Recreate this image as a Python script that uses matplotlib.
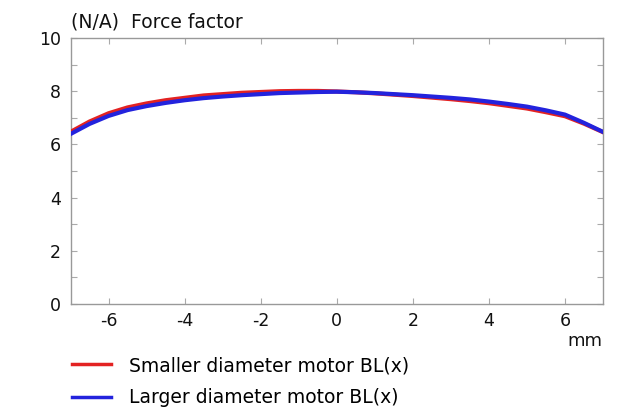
import numpy as np
import matplotlib.pyplot as plt
from matplotlib.ticker import MultipleLocator

# Displacement (mm) and force factor BL(x) (N/A)
x_mm = [-7, -6.5, -6, -5.5, -5, -4.5, -4, -3.5, -3, -2.5, -2, -1.5, -1, -0.5, 0,
        0.5, 1, 1.5, 2, 2.5, 3, 3.5, 4, 4.5, 5, 5.5, 6, 6.5, 7]
bl_small = [6.47, 6.86, 7.17, 7.39, 7.54, 7.66, 7.75, 7.84, 7.89, 7.94, 7.97, 8.00, 8.01, 8.01, 7.99,
            7.96, 7.92, 7.87, 7.82, 7.76, 7.70, 7.63, 7.55, 7.45, 7.35, 7.21, 7.06, 6.78, 6.46]
bl_large = [6.39, 6.77, 7.07, 7.29, 7.44, 7.56, 7.66, 7.74, 7.80, 7.85, 7.89, 7.93, 7.95, 7.97, 7.98,
            7.96, 7.93, 7.89, 7.85, 7.80, 7.75, 7.69, 7.61, 7.52, 7.42, 7.28, 7.12, 6.81, 6.47]

labels = ["Smaller diameter motor BL(x)", "Larger diameter motor BL(x)"]
colors = ["#e32222", "#2323dd"]

plt.rcParams['font.family'] = ['DejaVu Sans']
plt.rcParams['axes.unicode_minus'] = False

W, H = 629, 409
fig = plt.figure(figsize=(W / 100, H / 100), dpi=100)
ax = fig.add_axes([70.5 / W, 1 - 304 / H, 532.5 / W, 266 / H])

ax.plot(x_mm, bl_small, color=colors[0], lw=3, label=labels[0],
        solid_joinstyle='round', zorder=3)
ax.plot(x_mm, bl_large, color=colors[1], lw=3, label=labels[1],
        solid_joinstyle='round', zorder=4)

ax.set_xlim(-7, 7)
ax.set_ylim(0, 10)
ax.set_xticks([-6, -4, -2, 0, 2, 4, 6])
ax.set_yticks([0, 2, 4, 6, 8, 10])
ax.yaxis.set_minor_locator(MultipleLocator(1))
ax.tick_params(which='both', direction='in', top=True, right=True,
               length=4, width=0.8, color='#aaaaaa', labelsize=12.5,
               labelcolor='#111111')
ax.tick_params(axis='x', pad=6)
ax.tick_params(axis='y', pad=7)
for s in ax.spines.values():
    s.set_color('#999999')
    s.set_linewidth(1.0)

fig.text(71 / W, 1 - 28 / H, "(N/A)  Force factor", fontsize=13.5, color='#111111')
fig.text(585 / W, 1 - 341 / H, "mm", fontsize=13, color='#111111',
         ha='center', va='center')

leg = fig.legend(loc='upper left', bbox_to_anchor=(72 / W, 1 - 356 / H), frameon=False,
                 fontsize=13.5, handlelength=2.08, handletextpad=0.96, labelspacing=0.7,
                 borderpad=0, borderaxespad=0)
for line in leg.get_lines():
    line.set_linewidth(2.5)

fig.savefig("out.png", dpi=100)
